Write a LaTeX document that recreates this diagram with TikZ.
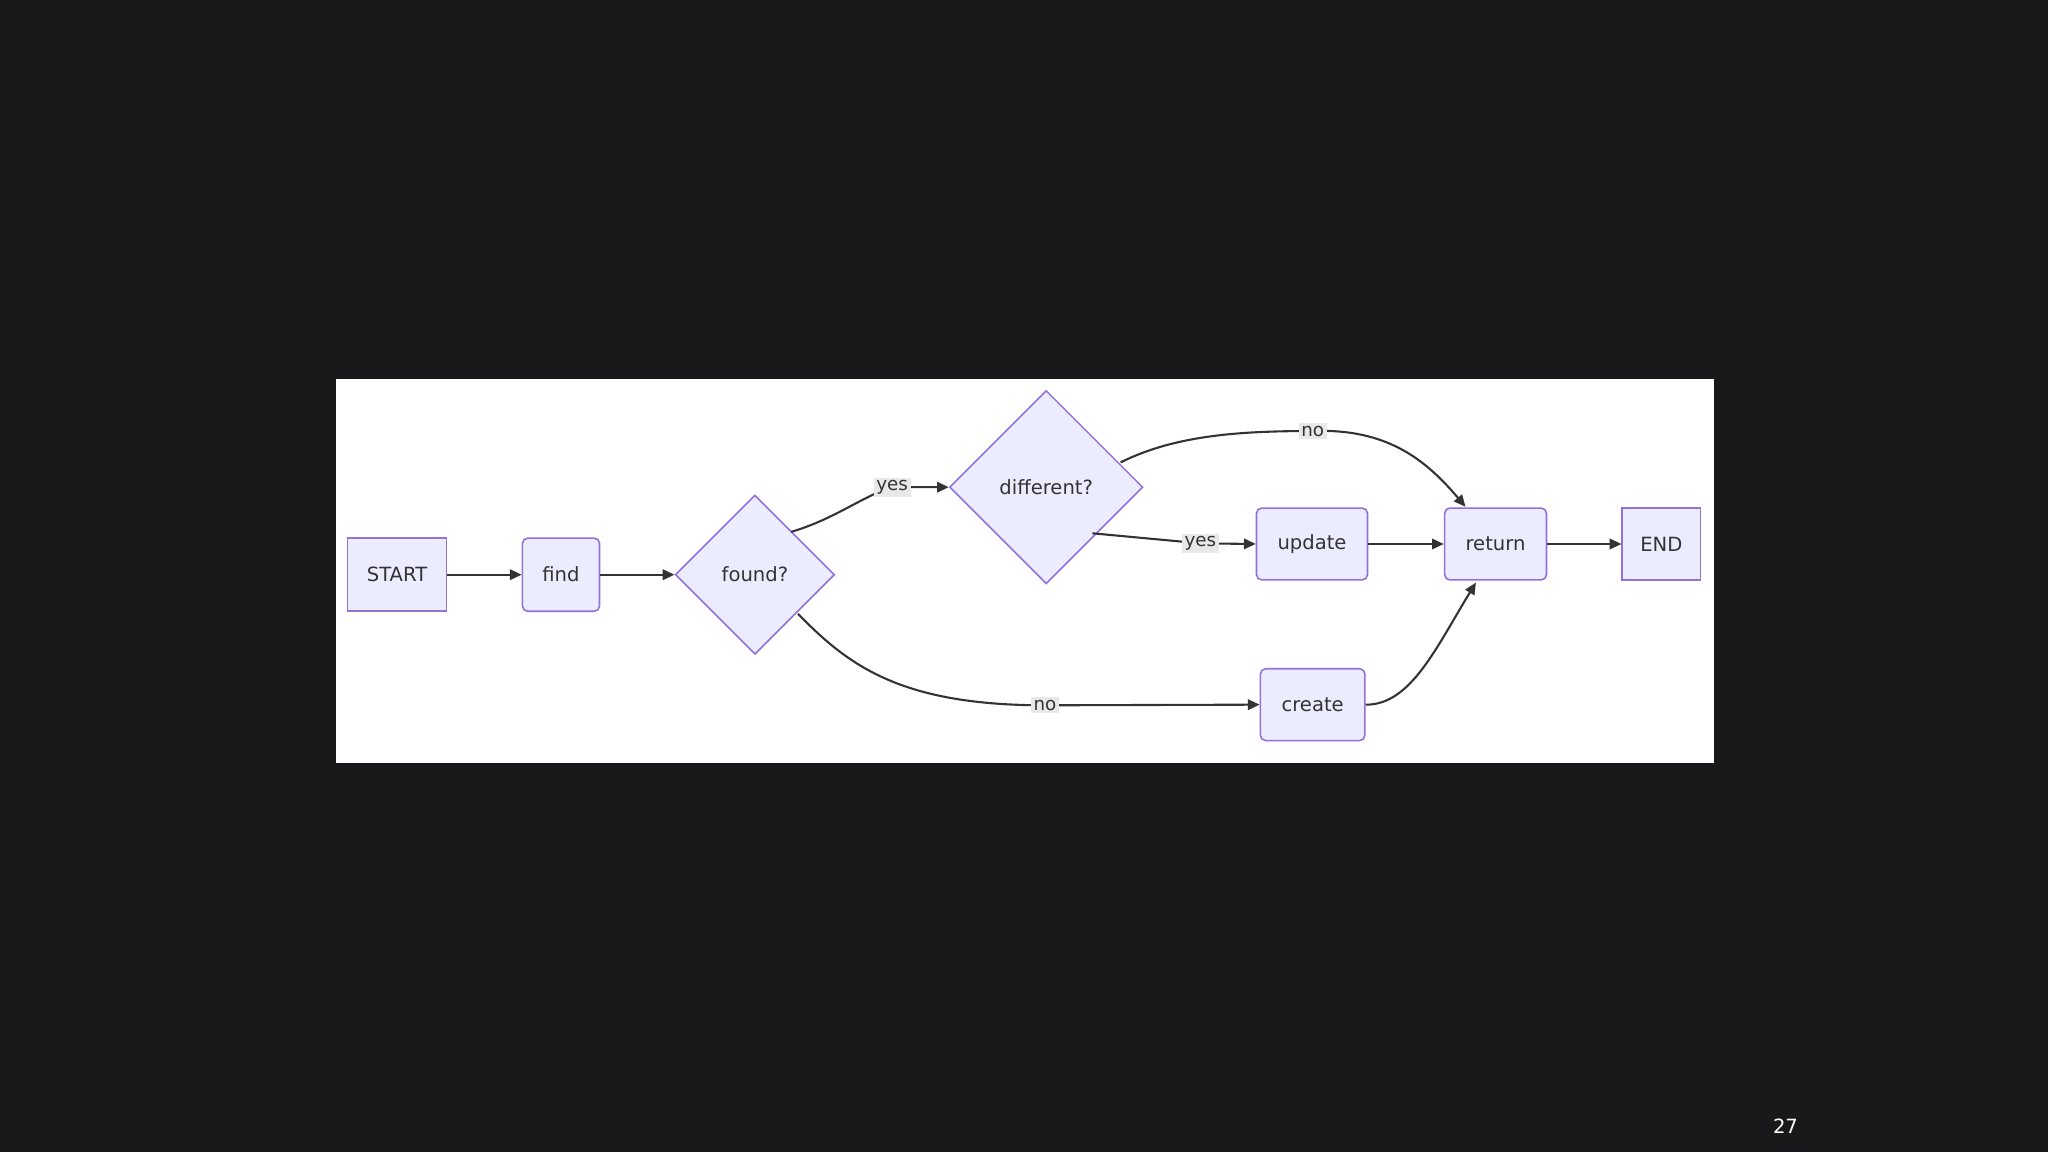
\documentclass[tikz,border=0pt]{standalone}
\usepackage{fontspec}
\setmainfont{DejaVu Sans}
\usetikzlibrary{shapes.geometric,arrows.meta}
\definecolor{bgc}{HTML}{18181A}
\definecolor{nodef}{HTML}{ECECFF}
\definecolor{noded}{HTML}{9370DB}
\definecolor{edgec}{HTML}{333333}
\definecolor{lblbg}{HTML}{E8E8E8}
\begin{document}
\begin{tikzpicture}[x=1pt,y=-1pt,
  every node/.style={font=\fontsize{15}{18}\selectfont, text=edgec},
  box/.style={draw=noded, fill=nodef, line width=1.2pt, inner sep=0pt, rectangle},
  rbox/.style={box, rounded corners=4pt},
  dia/.style={draw=noded, fill=nodef, line width=1.2pt, diamond, inner sep=0pt, aspect=1},
  edge/.style={draw=edgec, line width=1.6pt, -{Triangle[length=9pt,width=8pt]}},
  lbl/.style={fill=lblbg, inner sep=2pt, font=\fontsize{14}{16}\selectfont}]
\fill[bgc] (0,0) rectangle (1568,882);
\useasboundingbox (0,0) rectangle (1568,882);
\fill[white] (257,290) rectangle (1312,584);
\node[box, minimum width=76pt, minimum height=56pt] (start) at (304,440) {START};
\node[rbox, minimum width=59pt, minimum height=56pt] (find) at (429.5,440) {find};
\node[dia, minimum width=122pt, minimum height=122pt] (found) at (578,440) {found?};
\node[dia, minimum width=148pt, minimum height=148pt] (diff) at (801,373) {different?};
\node[rbox, minimum width=85pt, minimum height=55pt] (update) at (1004.5,416.5) {update};
\node[rbox, minimum width=78pt, minimum height=55pt] (ret) at (1145,416.5) {return};
\node[box, minimum width=60pt, minimum height=55pt] (end) at (1272,416.5) {END};
\node[rbox, minimum width=80pt, minimum height=55pt] (create) at (1005,539.5) {create};
\fill[black!90] (1352,848) rectangle (1382,876);
\node[text=white] (pg) at (1367,862) {27};

\draw[edge] (start) -- (find);
\draw[edge] (find) -- (found);
\coordinate (y1) at (683,373);
\draw[edge] (found.north east) ++(-3,-2) .. controls (640,397) and (660,380) .. (y1) -- (diff.west);
\node[lbl] (ly1) at (y1) {yes};
\coordinate (n1) at (800,540);
\draw[edge] (611,470) .. controls (650,510) and (690,540) .. (n1) -- (create.west);
\node[lbl] (ln1) at (n1) {no};
\coordinate (y2) at (919,416);
\draw[edge] (diff.south east) ++(-2,-2) -- (y2) -- (update.west);
\node[lbl] (ly2) at (y2) {yes};
\coordinate (n2) at (1005,330);
\draw[edge] (858,354) .. controls (900,333) and (950,330) .. (n2) .. controls (1060,328) and (1090,350) .. (1122,388);
\node[lbl] (ln2) at (n2) {no};
\draw[edge] (create.east) .. controls (1080,540) and (1100,495) .. (1130,446);
\draw[edge] (update) -- (ret);
\draw[edge] (ret) -- (end);
\end{tikzpicture}
\end{document}
